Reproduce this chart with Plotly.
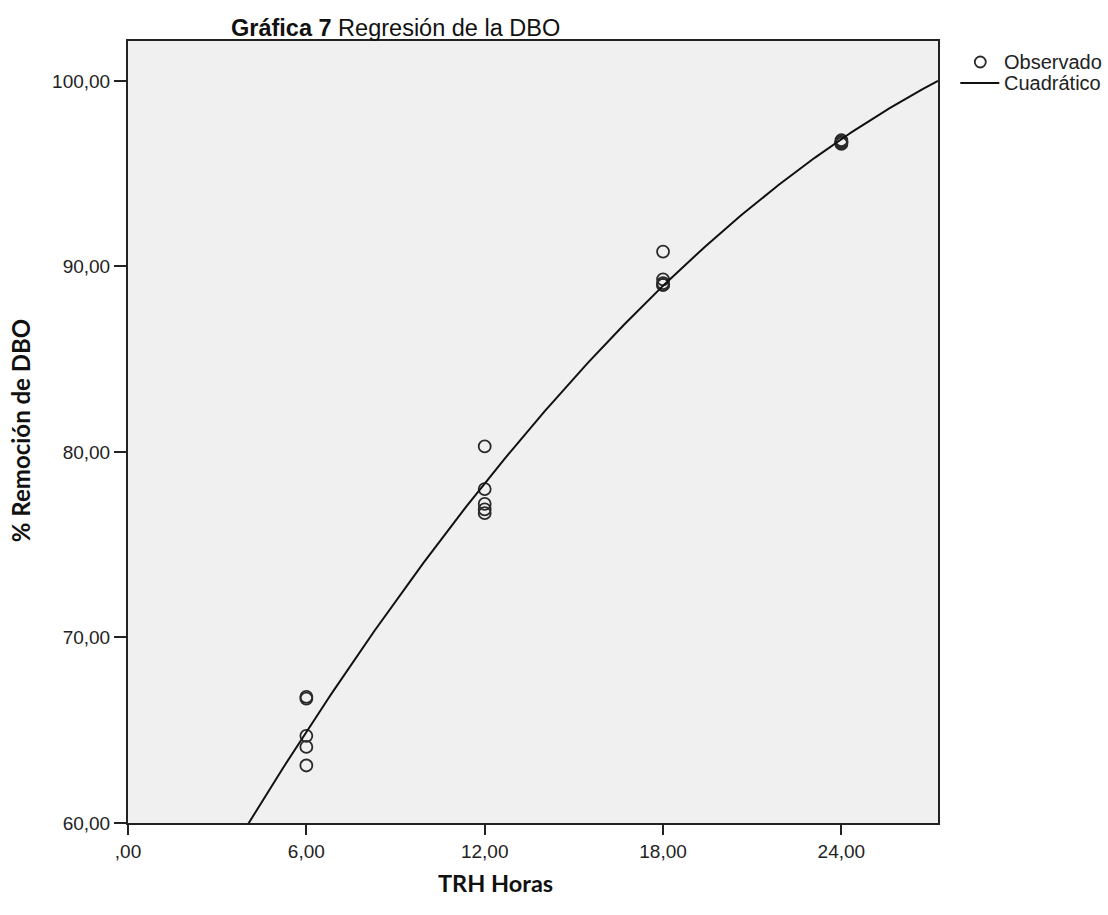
import numpy as np
import plotly.graph_objects as go

trh_hours = [6, 6, 6, 6, 6,
             12, 12, 12, 12, 12,
             18, 18, 18, 18, 18,
             24, 24, 24, 24, 24]
remocion_dbo = [66.8, 66.7, 64.7, 64.1, 63.1,
                80.3, 78.0, 77.2, 76.9, 76.7,
                90.8, 89.3, 89.1, 89.0, 89.0,
                96.8, 96.7, 96.7, 96.7, 96.6]

x_tick_vals = [0, 6, 12, 18, 24]
x_tick_text = [",00", "6,00", "12,00", "18,00", "24,00"]
y_tick_vals = [60, 70, 80, 90, 100]
y_tick_text = ["60,00", "70,00", "80,00", "90,00", "100,00"]

legend_labels = ["Observado", "Cuadrático"]

x_range = [0, 27.25]
y_range = [60, 102.15]

# Quadratic regression fitted to the observed data
coef = np.polyfit(trh_hours, remocion_dbo, 2)
xc = np.linspace(x_range[0], x_range[1], 300)
yc = np.polyval(coef, xc)

W, H = 1108, 915
L, R, T, B = 127.7, 937.7, 41.0, 823.3

FONT = "Liberation Sans, Arial, sans-serif"
TITLE_FONT = "Lato, Open Sans, sans-serif"
INK = "#2a2a2a"

fig = go.Figure()
fig.add_trace(go.Scatter(
    x=trh_hours, y=remocion_dbo, mode="markers", name=legend_labels[0],
    marker=dict(symbol="circle-open", size=12, color=INK,
                line=dict(width=1.8, color=INK)),
))
fig.add_trace(go.Scatter(
    x=xc, y=yc, mode="lines", name=legend_labels[1],
    line=dict(color="#111111", width=2),
))

fig.update_layout(
    width=W, height=H,
    margin=dict(l=L, r=W - R, t=T, b=H - B, pad=0, autoexpand=False),
    paper_bgcolor="white", plot_bgcolor="#f0f0f0",
    showlegend=False,
    font=dict(family=FONT, size=19, color="#222"),
)
fig.update_xaxes(
    range=x_range, tickmode="array", tickvals=x_tick_vals, ticktext=x_tick_text,
    ticks="outside", ticklen=10, tickwidth=2, tickcolor="#222",
    showgrid=False, zeroline=False,
    showline=True, linecolor="#222", linewidth=2, mirror=True,
    tickfont=dict(family=FONT, size=19, color="#222"),
)
fig.update_yaxes(
    range=y_range, tickmode="array", tickvals=y_tick_vals, ticktext=y_tick_text,
    ticks="outside", ticklen=12, tickwidth=2, tickcolor="#222",
    showgrid=False, zeroline=False,
    showline=True, linecolor="#222", linewidth=2, mirror=True,
    tickfont=dict(family=FONT, size=19, color="#222"),
)

def px_x(p):
    return (p - L) / (R - L)

def px_y(p):
    return (B - p) / (B - T)

# Title and axis titles
fig.add_annotation(
    x=px_x(229), y=px_y(28), xref="paper", yref="paper",
    xanchor="left", yanchor="middle", showarrow=False,
    text="<b>Gráfica 7</b> Regresión de la DBO",
    font=dict(family=FONT, size=23.5, color="#111"),
)
fig.add_annotation(
    x=px_x(495), y=px_y(883), xref="paper", yref="paper",
    xanchor="center", yanchor="middle", showarrow=False,
    text="<b>TRH Horas</b>",
    font=dict(family=TITLE_FONT, size=23.5, color="#111"),
)
fig.add_annotation(
    x=px_x(21), y=px_y(431), xref="paper", yref="paper",
    xanchor="center", yanchor="middle", showarrow=False, textangle=-90,
    text="<b>% Remoción de DBO</b>",
    font=dict(family=TITLE_FONT, size=24, color="#111"),
)

# Manual legend (outside the plot area, right side)
leg_rows_y = [62, 83]
cx, cy, r = 980, leg_rows_y[0], 5.5
fig.add_shape(type="circle", xref="paper", yref="paper",
              x0=px_x(cx - r), x1=px_x(cx + r), y0=px_y(cy + r), y1=px_y(cy - r),
              line=dict(color=INK, width=1.8), fillcolor="rgba(0,0,0,0)")
fig.add_shape(type="line", xref="paper", yref="paper",
              x0=px_x(960), x1=px_x(999), y0=px_y(leg_rows_y[1]), y1=px_y(leg_rows_y[1]),
              line=dict(color="#111", width=2))
for lab, yy in zip(legend_labels, leg_rows_y):
    fig.add_annotation(
        x=px_x(1002), y=px_y(yy), xref="paper", yref="paper",
        xanchor="left", yanchor="middle", showarrow=False, text=lab,
        font=dict(family=FONT, size=20, color="#222"),
    )

fig.write_html("out.html")
